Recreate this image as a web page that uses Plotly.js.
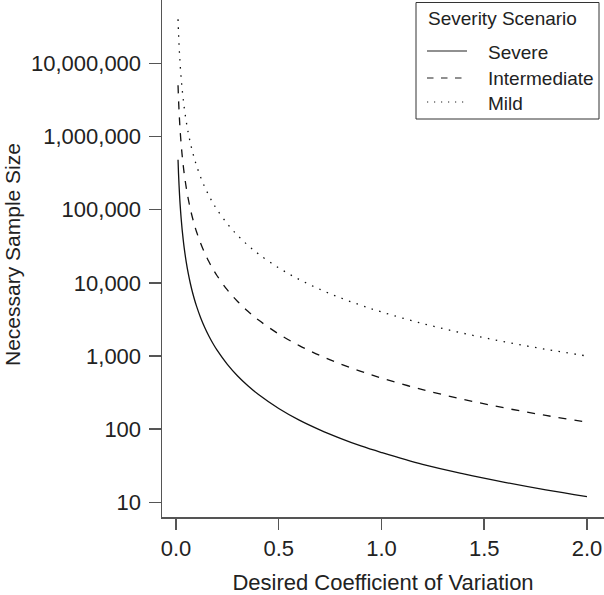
<!DOCTYPE html>
<html>
<head>
<meta charset="utf-8">
<script src="https://cdn.plot.ly/plotly-3.0.1.min.js"></script>
<style>html,body{margin:0;padding:0;background:#fff;}#chart{width:604px;height:595px;}</style>
</head>
<body>
<div id="chart"></div>
<script>
// Desired coefficient of variation
const cv = [0.01, 0.0125, 0.015, 0.0175, 0.02, 0.025, 0.03, 0.035, 0.04, 0.05, 0.06, 0.07, 0.08, 0.09, 0.1, 0.12, 0.14, 0.16, 0.18, 0.2, 0.25, 0.3, 0.35, 0.4, 0.5, 0.6, 0.7, 0.8, 0.9, 1.0, 1.2, 1.4, 1.6, 1.8, 2.0];
// Necessary sample size per scenario
const severe = [480000, 307200, 213333, 156735, 120000, 76800, 53333, 39184, 30000, 19200, 13333, 9796, 7500, 5926, 4800, 3333, 2449, 1875, 1481, 1200, 768, 533, 392, 300, 192, 133, 98, 75, 59, 48, 33, 24.5, 18.8, 14.8, 12];
const intermediate = [5000000, 3200000, 2222222, 1632653, 1250000, 800000, 555556, 408163, 312500, 200000, 138889, 102041, 78125, 61728, 50000, 34722, 25510, 19531, 15432, 12500, 8000, 5556, 4082, 3125, 2000, 1389, 1020, 781, 617, 500, 347, 255, 195, 154, 125];
const mild = [40000000, 25600000, 17777778, 13061224, 10000000, 6400000, 4444444, 3265306, 2500000, 1600000, 1111111, 816327, 625000, 493827, 400000, 277778, 204082, 156250, 123457, 100000, 64000, 44444, 32653, 25000, 16000, 11111, 8163, 6250, 4938, 4000, 2778, 2041, 1563, 1235, 1000];
const seriesNames = ["Severe", "Intermediate", "Mild"];
const legendTitle = "Severity Scenario";
const xTickVals = [0, 0.5, 1.0, 1.5, 2.0];
const xTickText = ["0.0", "0.5", "1.0", "1.5", "2.0"];
const yTickVals = [10, 100, 1000, 10000, 100000, 1000000, 10000000];
const yTickText = ["10", "100", "1,000", "10,000", "100,000", "1,000,000", "10,000,000"];

const FONT = "Liberation Sans, Arial, Helvetica, sans-serif";
const W = 604, H = 595, ML = 162, MB = 78;
const PW = W - ML, PH = H - MB;
const px = v => (v - ML) / PW;          // pixel -> paper x
const py = v => (PH - v) / PH;          // pixel -> paper y

const traceDash = ["solid", "8px,8px", "1.5px,6.5px"];
const legendDash = ["solid", "6.5px,7.5px", "1.2px,5.8px"];
const traces = [severe, intermediate, mild].map((ys, i) => ({
  x: cv, y: ys, name: seriesNames[i], mode: "lines", showlegend: false,
  line: {color: "#111", width: i === 2 ? 1.3 : 1.3, dash: traceDash[i], shape: "spline"}
}));

// Legend drawn as a box with sample lines and labels
const legendRows = [51, 78, 102];
const shapes = [{
  type: "rect", xref: "paper", yref: "paper",
  x0: px(416), x1: px(599), y0: py(2.5), y1: py(119),
  line: {color: "#333", width: 1}, fillcolor: "#fff", layer: "above"
}];
const annotations = [{
  text: legendTitle, xref: "paper", yref: "paper", x: px(426), y: py(18),
  xanchor: "left", yanchor: "middle", showarrow: false,
  font: {family: FONT, size: 19, color: "#222"}
}];
seriesNames.forEach((n, i) => {
  shapes.push({
    type: "line", xref: "paper", yref: "paper",
    x0: px(427), x1: px(467), y0: py(legendRows[i]), y1: py(legendRows[i]),
    line: {color: "#222", width: 1.1, dash: legendDash[i]}, layer: "above"
  });
  annotations.push({
    text: n, xref: "paper", yref: "paper", x: px(486), y: py(legendRows[i] + 1),
    xanchor: "left", yanchor: "middle", showarrow: false,
    font: {family: FONT, size: 19, color: "#222"}
  });
});
annotations.push({
  text: "Necessary Sample Size", xref: "paper", yref: "paper",
  x: px(12), y: py(255), textangle: -90,
  showarrow: false, font: {family: FONT, size: 21, color: "#222"}, xanchor: "center", yanchor: "middle"
});

const layout = {
  width: W, height: H,
  margin: {l: ML, r: 0, t: 0, b: MB},
  paper_bgcolor: "#fff", plot_bgcolor: "#fff",
  font: {family: FONT, color: "#222", size: 22},
  showlegend: false,
  xaxis: {
    range: [-0.068, 2.083], tickvals: xTickVals, ticktext: xTickText,
    showline: true, linecolor: "#555", linewidth: 1.5,
    ticks: "outside", ticklen: 11, tickcolor: "#555", tickwidth: 1.5,
    showgrid: false, zeroline: false,
    tickfont: {size: 22},
    title: {text: "Desired Coefficient of Variation", font: {size: 22}, standoff: 16}
  },
  yaxis: {
    type: "log", range: [0.8, 7.865], tickvals: yTickVals, ticktext: yTickText,
    showline: true, linecolor: "#555", linewidth: 1.5,
    ticks: "outside", ticklen: 12, tickcolor: "#555", tickwidth: 1.5,
    ticklabelstandoff: 3,
    showgrid: false, zeroline: false,
    tickfont: {size: 22}
  },
  shapes: shapes,
  annotations: annotations
};
Plotly.newPlot("chart", traces, layout, {displayModeBar: false, staticPlot: true});
</script>
</body>
</html>
